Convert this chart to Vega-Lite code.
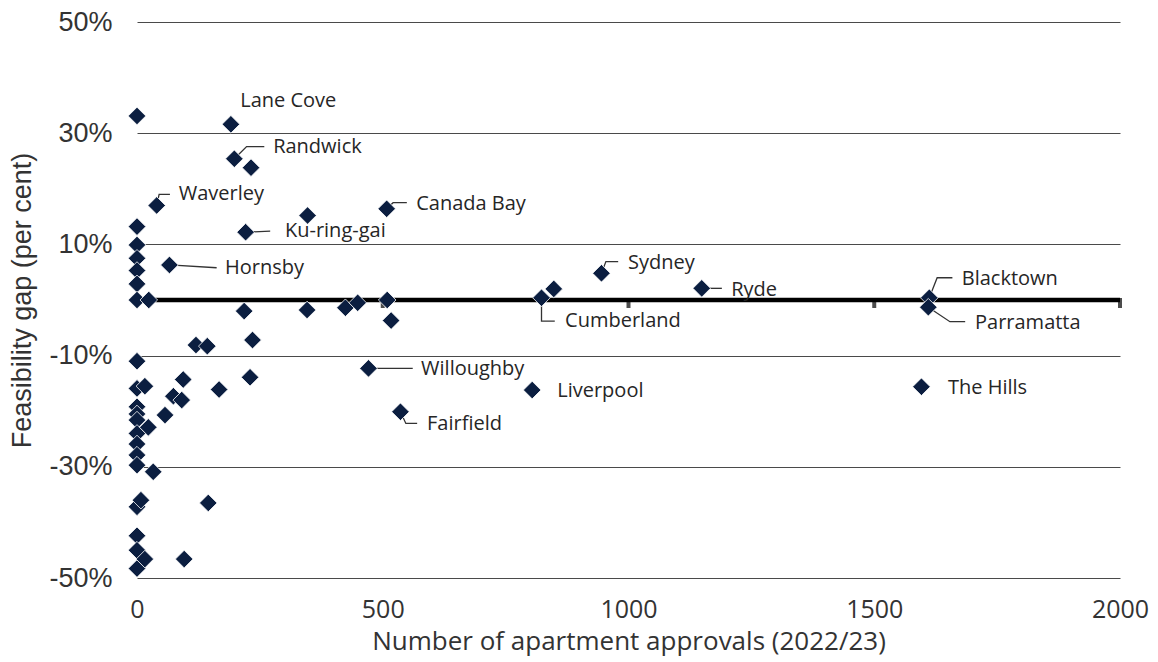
{
  "$schema": "https://vega.github.io/schema/vega-lite/v6.json",
  "width": 983,
  "height": 556,
  "autosize": {"type": "none"},
  "padding": {"left": 137, "top": 22, "right": 38, "bottom": 84},
  "background": "white",
  "config": {
    "view": {"stroke": null},
    "axisX": {
      "grid": false, "domain": false, "ticks": false, "format": "d",
      "labelFlush": false, "labelFont": "Open Sans", "labelFontSize": 25, "labelColor": "#333333", "labelPadding": 19,
      "titleFont": "Open Sans", "titleFontSize": 26, "titleFontWeight": "normal", "titleColor": "#333333", "titlePadding": 6
    },
    "axisY": {
      "grid": true, "gridColor": "#4a4a4a", "gridWidth": 1,
      "domain": false, "ticks": false, "labelExpr": "datum.value + '%'",
      "labelFont": "Liberation Sans", "labelFontSize": 27, "labelColor": "#333333", "labelPadding": 25,
      "titleFont": "Liberation Sans", "titleFontSize": 27, "titleFontWeight": "normal", "titleColor": "#333333", "titlePadding": 12
    }
  },
  "datasets": {
    "points": [
      {"approvals": 0, "gap": 33.1}, {"approvals": 0, "gap": 13.2}, {"approvals": 0, "gap": 9.9},
      {"approvals": 0, "gap": 7.5}, {"approvals": 0, "gap": 5.3}, {"approvals": 0, "gap": 2.9},
      {"approvals": 0, "gap": 0}, {"approvals": 0, "gap": -11.0}, {"approvals": 0, "gap": -15.9},
      {"approvals": 0, "gap": -19.2}, {"approvals": 0, "gap": -20.5}, {"approvals": 0, "gap": -21.6},
      {"approvals": 0, "gap": -24.0}, {"approvals": 0, "gap": -25.9}, {"approvals": 0, "gap": -27.9},
      {"approvals": 0, "gap": -29.7}, {"approvals": 0, "gap": -37.2}, {"approvals": 0, "gap": -42.4},
      {"approvals": 0, "gap": -45.0}, {"approvals": 0, "gap": -48.3},
      {"approvals": 24, "gap": 0}, {"approvals": 40, "gap": 17.0}, {"approvals": 66, "gap": 6.3},
      {"approvals": 191, "gap": 31.6}, {"approvals": 198, "gap": 25.4}, {"approvals": 232, "gap": 23.8},
      {"approvals": 347, "gap": 15.2}, {"approvals": 508, "gap": 16.4}, {"approvals": 221, "gap": 12.2},
      {"approvals": 218, "gap": -2.0}, {"approvals": 346, "gap": -1.8}, {"approvals": 424, "gap": -1.4},
      {"approvals": 449, "gap": -0.5}, {"approvals": 509, "gap": 0}, {"approvals": 517, "gap": -3.7},
      {"approvals": 823, "gap": 0.4}, {"approvals": 848, "gap": 2.0}, {"approvals": 945, "gap": 4.8},
      {"approvals": 1149, "gap": 2.1}, {"approvals": 1612, "gap": 0.4}, {"approvals": 1610, "gap": -1.3},
      {"approvals": 1596, "gap": -15.6}, {"approvals": 471, "gap": -12.3}, {"approvals": 804, "gap": -16.2},
      {"approvals": 536, "gap": -20.1}, {"approvals": 120, "gap": -8.1}, {"approvals": 143, "gap": -8.3},
      {"approvals": 235, "gap": -7.2}, {"approvals": 16, "gap": -15.5}, {"approvals": 94, "gap": -14.3},
      {"approvals": 230, "gap": -13.9}, {"approvals": 167, "gap": -16.1}, {"approvals": 74, "gap": -17.3},
      {"approvals": 91, "gap": -18.0}, {"approvals": 23, "gap": -22.9}, {"approvals": 57, "gap": -20.7},
      {"approvals": 33, "gap": -30.9}, {"approvals": 8, "gap": -36.0}, {"approvals": 145, "gap": -36.5},
      {"approvals": 16, "gap": -46.6}, {"approvals": 96, "gap": -46.6}
    ],
    "leaders": [
      {"name": "Randwick", "ord": 0, "x": 198, "y": 25.4}, {"name": "Randwick", "ord": 1, "x": 223, "y": 27.6}, {"name": "Randwick", "ord": 2, "x": 259, "y": 27.6},
      {"name": "Waverley", "ord": 0, "x": 40, "y": 17.0}, {"name": "Waverley", "ord": 1, "x": 45, "y": 19.0}, {"name": "Waverley", "ord": 2, "x": 67, "y": 19.0},
      {"name": "Ku-ring-gai", "ord": 0, "x": 221, "y": 12.2}, {"name": "Ku-ring-gai", "ord": 1, "x": 271, "y": 12.4},
      {"name": "Hornsby", "ord": 0, "x": 66, "y": 6.3}, {"name": "Hornsby", "ord": 1, "x": 162, "y": 5.8},
      {"name": "Canada Bay", "ord": 0, "x": 508, "y": 16.4}, {"name": "Canada Bay", "ord": 1, "x": 521, "y": 17.5}, {"name": "Canada Bay", "ord": 2, "x": 549, "y": 17.5},
      {"name": "Sydney", "ord": 0, "x": 945, "y": 4.8}, {"name": "Sydney", "ord": 1, "x": 954, "y": 6.9}, {"name": "Sydney", "ord": 2, "x": 979, "y": 6.9},
      {"name": "Ryde", "ord": 0, "x": 1149, "y": 2.1}, {"name": "Ryde", "ord": 1, "x": 1190, "y": 2.1},
      {"name": "Cumberland", "ord": 0, "x": 823, "y": 0.4}, {"name": "Cumberland", "ord": 1, "x": 823, "y": -3.8}, {"name": "Cumberland", "ord": 2, "x": 850, "y": -3.8},
      {"name": "Blacktown", "ord": 0, "x": 1612, "y": 0.4}, {"name": "Blacktown", "ord": 1, "x": 1628, "y": 4.0}, {"name": "Blacktown", "ord": 2, "x": 1659, "y": 4.0},
      {"name": "Parramatta", "ord": 0, "x": 1610, "y": -1.3}, {"name": "Parramatta", "ord": 1, "x": 1654, "y": -3.9}, {"name": "Parramatta", "ord": 2, "x": 1685, "y": -3.9},
      {"name": "Willoughby", "ord": 0, "x": 471, "y": -12.3}, {"name": "Willoughby", "ord": 1, "x": 561, "y": -12.3},
      {"name": "Fairfield", "ord": 0, "x": 536, "y": -20.1}, {"name": "Fairfield", "ord": 1, "x": 547, "y": -22.2}, {"name": "Fairfield", "ord": 2, "x": 570, "y": -22.2}
    ],
    "labels": [
      {"name": "Lane Cove", "lx": 210, "ly": 35.8},
      {"name": "Randwick", "lx": 277, "ly": 27.5},
      {"name": "Waverley", "lx": 85, "ly": 19.1},
      {"name": "Ku-ring-gai", "lx": 301, "ly": 12.4},
      {"name": "Hornsby", "lx": 179, "ly": 5.8},
      {"name": "Canada Bay", "lx": 568, "ly": 17.3},
      {"name": "Sydney", "lx": 999, "ly": 6.7},
      {"name": "Ryde", "lx": 1209, "ly": 1.8},
      {"name": "Cumberland", "lx": 871, "ly": -3.8},
      {"name": "Blacktown", "lx": 1678, "ly": 3.8},
      {"name": "Parramatta", "lx": 1705, "ly": -4.1},
      {"name": "The Hills", "lx": 1650, "ly": -15.8},
      {"name": "Willoughby", "lx": 578, "ly": -12.4},
      {"name": "Liverpool", "lx": 855, "ly": -16.4},
      {"name": "Fairfield", "lx": 590, "ly": -22.3}
    ],
    "zeroticks": [{"t": 500}, {"t": 1000}, {"t": 1500}, {"t": 2000}],
    "zeroline": [{"x0": 0, "x1": 2000, "y0": 0}]
  },
  "encoding": {
    "x": {
      "type": "quantitative",
      "scale": {"domain": [0, 2000], "nice": false, "zero": false},
      "axis": {"values": [0, 500, 1000, 1500, 2000]},
      "title": "Number of apartment approvals (2022/23)"
    },
    "y": {
      "type": "quantitative",
      "scale": {"domain": [-50, 50], "nice": false, "zero": false},
      "axis": {"values": [-50, -30, -10, 10, 30, 50]},
      "title": "Feasibility gap (per cent)"
    }
  },
  "layer": [
    {
      "data": {"name": "zeroline"},
      "mark": {"type": "rule", "color": "#000000", "strokeWidth": 4.5},
      "encoding": {
        "x": {"field": "x0", "type": "quantitative"},
        "x2": {"field": "x1"},
        "y": {"field": "y0", "type": "quantitative"}
      }
    },
    {
      "data": {"name": "zeroticks"},
      "mark": {"type": "tick", "color": "#000000", "orient": "vertical", "thickness": 4, "size": 10, "yOffset": 3},
      "encoding": {
        "x": {"field": "t", "type": "quantitative"},
        "y": {"datum": 0, "type": "quantitative"}
      }
    },
    {
      "data": {"name": "leaders"},
      "mark": {"type": "line", "color": "#333333", "strokeWidth": 1.3},
      "encoding": {
        "x": {"field": "x", "type": "quantitative"},
        "y": {"field": "y", "type": "quantitative"},
        "detail": {"field": "name"},
        "order": {"field": "ord", "type": "quantitative"}
      }
    },
    {
      "data": {"name": "points"},
      "mark": {"type": "point", "shape": "diamond", "filled": true, "size": 310, "color": "#0b1e40", "stroke": "white", "strokeWidth": 0.8, "opacity": 1},
      "encoding": {
        "x": {"field": "approvals", "type": "quantitative"},
        "y": {"field": "gap", "type": "quantitative"}
      }
    },
    {
      "data": {"name": "labels"},
      "mark": {"type": "text", "align": "left", "baseline": "middle", "font": "Open Sans", "fontSize": 20, "color": "#262626"},
      "encoding": {
        "x": {"field": "lx", "type": "quantitative"},
        "y": {"field": "ly", "type": "quantitative"},
        "text": {"field": "name"}
      }
    }
  ]
}
